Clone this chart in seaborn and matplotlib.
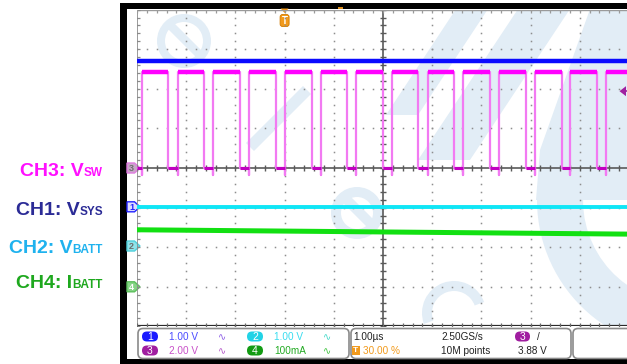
import numpy as np
import pandas as pd
import matplotlib
matplotlib.use("Agg")
import matplotlib.pyplot as plt
import seaborn as sns
from matplotlib.patches import Polygon, FancyBboxPatch, Rectangle, Wedge

sns.set_theme(style="white")
plt.rcParams["font.family"] = ["Liberation Sans", "DejaVu Sans"]

# ---- acquisition: 10 horizontal divisions of 1 µs, 8 vertical divisions ----
n_hdiv = 10
n_vdiv = 8
trigger_pos_div = 3.0            # 30.00 % of the record
trigger_level_div = 1.94         # 3.88 V on CH3 at 2 V/div

# ---- CH3 (switch node): edge times (µs) and levels (divisions) ----
vsw_rise_us = [0.10, 0.83, 1.55, 2.28, 3.01, 3.73, 4.46, 5.18, 5.91, 6.63, 7.36, 8.09, 8.81, 9.54]
vsw_fall_us = [0.64, 1.37, 2.09, 2.82, 3.55, 4.27, 5.00, 5.72, 6.45, 7.17, 7.90, 8.63, 9.35, 10.08]
vsw_high_div = 2.43
vsw_low_div = 0.0
vsw_undershoot_div = -0.17

# ---- DC channels (divisions, at start and end of the record) ----
vsys_div = [2.71, 2.71]
vbatt_div = [-0.98, -0.98]
ibatt_div = [-1.56, -1.67]

# ---- channel ground markers ----
marker_names = ["3", "1", "2", "4"]
marker_div = [0.0, -0.98, -1.97, -3.0]
marker_fill = ["#c9a6c9", "#dcdcff", "#8fe3ea", "#86d486"]
marker_edge = ["#e07ae0", "#2222ff", "#4fd0dc", "#5cc05c"]
marker_text = ["#6e6e6e", "#2222ff", "#6e6e6e", "#ffffff"]

# ---- side labels ----
label_main = ["CH3: V", "CH1: V", "CH2: V", "CH4: I"]
label_sub = ["SW", "SYS", "BATT", "BATT"]
label_color = ["#ff10ff", "#2b2b96", "#1fb2ee", "#1ea81e"]
label_baseline_px = [176, 215, 253, 288]

# ---- readout panel ----
ch_scale = ["1.00 V", "1.00 V", "2.00 V", "100mA"]
ch_num = ["1", "2", "3", "4"]
ch_pill = ["#1a1aff", "#22d3e6", "#a01ea0", "#139b13"]
ch_text = ["#4a4aff", "#38dcef", "#c850c8", "#22aa22"]
ch_icon = ["#8a5ae6", "#3fd8c8", "#b455c8", "#3cc23c"]
timebase = "1.00µs"
trigger_pct = "30.00 %"
sample_rate = "2.50GS/s"
record_len = "10M points"
trig_level = "3.88 V"

W, H = 627, 364
fig = plt.figure(figsize=(W / 100, H / 100), dpi=100)
fig.patch.set_facecolor("white")

# background layer in pixel coordinates
bg = fig.add_axes([0, 0, 1, 1])
bg.set_xlim(0, W)
bg.set_ylim(H, 0)
bg.axis("off")
bg.set_zorder(0)

grid_left, grid_right, grid_top, grid_bot = 137, 629, 9.6, 326.4

# faint logo watermark behind the graticule
wm = "#e2edf6"
clip = Rectangle((grid_left, grid_top), W - grid_left, grid_bot - grid_top, transform=bg.transData)
wm_patches = [
    # letter "e" top left
    Wedge((184, 41), 27, 0, 360, width=8),
    Polygon([(166, 27), (172, 21), (204, 53), (198, 59)]),
    # diagonal stroke
    Polygon([(246, 143), (254, 151), (311, 94), (303, 86)]),
    # letter "e" in the middle
    Wedge((357, 213), 26, 0, 360, width=10),
    Polygon([(340, 200), (347, 193), (374, 220), (367, 227)]),
    # letter "c" at the bottom
    Wedge((454, 313), 32, 160, 340, width=10),
    # diagonal bands on the right
    Polygon([(386, 115), (418, 115), (488, 9), (456, 9)]),
    Polygon([(418, 160), (470, 160), (570, 9), (518, 9)]),
    Polygon([(590, 9), (640, 9), (640, 200), (536, 200), (540, 150)]),
    # large "C" sweep lower right
    Wedge((687, 200), 150, 90, 185, width=46),
]
for p in wm_patches:
    p.set_facecolor(wm)
    p.set_edgecolor("none")
    p.set_zorder(0.5)
    bg.add_patch(p)
    p.set_clip_path(clip)

# black bezel
for (x0, y0, w, h) in [(120, 3, W - 120, 5.5), (120, 3, 6.5, H - 3), (120, 359, W - 120, 5)]:
    bg.add_patch(Rectangle((x0, y0), w, h, facecolor="black", edgecolor="none", zorder=3))

# ---- graticule & traces ----
ax = fig.add_axes([grid_left / W, (H - grid_bot) / H, (grid_right - grid_left) / W, (grid_bot - grid_top) / H])
ax.set_zorder(2)
ax.patch.set_alpha(0)

dot_c = "#8e8e8e"
minor_x = np.arange(0, n_hdiv + 0.01, 0.2)
minor_y = np.arange(-n_vdiv / 2, n_vdiv / 2 + 0.01, 0.2)
for xv in range(1, n_hdiv):
    if xv == n_hdiv // 2:
        continue
    ax.plot(np.full_like(minor_y, xv), minor_y, ls="none", marker="s", ms=1.1, color=dot_c, mew=0)
for yv in range(-n_vdiv // 2 + 1, n_vdiv // 2):
    if yv == 0:
        continue
    ax.plot(minor_x, np.full_like(minor_x, yv), ls="none", marker="s", ms=1.1, color=dot_c, mew=0)

# centre cross-hair with ticks
ax.axvline(n_hdiv / 2, color="#5a5a5a", lw=1.2)
ax.axhline(0, color="#5a5a5a", lw=1.2)
ax.plot(np.full_like(minor_y, n_hdiv / 2), minor_y, ls="none", marker="_", ms=5, mew=1, color="#5a5a5a")
ax.plot(minor_x, np.zeros_like(minor_x), ls="none", marker="|", ms=5, mew=1, color="#5a5a5a")
# border with ticks
ax.axvline(0, color="#8a8a8a", lw=1.2)
ax.axhline(n_vdiv / 2, color="#9a9a9a", lw=1.0)
ax.axhline(-n_vdiv / 2, color="#2a2a2a", lw=1.6)
ax.plot(np.zeros_like(minor_y), minor_y, ls="none", marker="_", ms=4, mew=0.9, color="#8a8a8a")
ax.plot(minor_x, np.full_like(minor_x, n_vdiv / 2), ls="none", marker="|", ms=4, mew=0.9, color="#9a9a9a")
ax.plot(minor_x, np.full_like(minor_x, -n_vdiv / 2), ls="none", marker="|", ms=4, mew=0.9, color="#6a6a6a")

# CH3 switch-node waveform as a step trace
t_pts, v_pts = [0.0], [vsw_low_div]
for r, f in zip(vsw_rise_us, vsw_fall_us):
    t_pts += [r, r, r, f, f]
    v_pts += [vsw_low_div, vsw_undershoot_div, vsw_high_div, vsw_high_div, vsw_low_div]
vsw = pd.DataFrame({"t": t_pts, "v": v_pts})
sns.lineplot(data=vsw, x="t", y="v", sort=False, estimator=None, color="#f27af2", lw=1.6, ax=ax)
n_pulses = len(vsw_rise_us)
ax.hlines([vsw_high_div] * n_pulses, vsw_rise_us, vsw_fall_us, color="#ff00ff", lw=3.2, zorder=4)
ax.hlines([vsw_low_div] * n_pulses, [0.0] + vsw_fall_us[:-1], vsw_rise_us, color="#c000c0", lw=2.2, zorder=4)

# DC traces
dc = pd.DataFrame({"t": [0, n_hdiv] * 3,
                   "v": vsys_div + vbatt_div + ibatt_div,
                   "ch": ["CH1"] * 2 + ["CH2"] * 2 + ["CH4"] * 2})
for ch, col, lw in [("CH1", "#0a0aff", 3.2), ("CH2", "#10e6f6", 2.8), ("CH4", "#12e012", 3.6)]:
    sns.lineplot(data=dc[dc.ch == ch], x="t", y="v", color=col, lw=lw, ax=ax, estimator=None)
ax.set_xlim(0, n_hdiv)
ax.set_ylim(-n_vdiv / 2, n_vdiv / 2)
ax.axis("off")

# ---- markers in pixel space ----
def y_px(div):
    return (grid_top + grid_bot) / 2 - div * (grid_bot - grid_top) / n_vdiv

def x_px(div):
    return grid_left + div * (grid_right - grid_left) / n_hdiv

for name, d, fc, ec, tc in zip(marker_names, marker_div, marker_fill, marker_edge, marker_text):
    yc = y_px(d)
    bg.add_patch(Polygon([(127, yc - 5), (134.5, yc - 5), (140, yc), (134.5, yc + 5), (127, yc + 5)],
                         closed=True, facecolor=fc, edgecolor=ec, lw=1.0, zorder=4))
    bg.text(131.5, yc + 0.3, name, ha="center", va="center", fontsize=6.5, fontweight="bold", color=tc, zorder=5)

# trigger position marker
tx = x_px(trigger_pos_div)
bg.add_patch(Polygon([(tx - 4, 8.5), (tx + 4, 8.5), (tx, 13)], facecolor="#f29a1c", edgecolor="none", zorder=4))
bg.add_patch(FancyBboxPatch((tx - 4.5, 14.5), 9, 12, boxstyle="round,pad=0,rounding_size=2.5",
                            facecolor="#f29a1c", edgecolor="#d07a00", lw=0.6, zorder=4))
bg.text(tx, 20.8, "T", ha="center", va="center", fontsize=7, fontweight="bold", color="white", zorder=5)
bg.add_patch(Rectangle((338, 6.5), 5, 2.5, facecolor="#e0901c", edgecolor="none", zorder=4))

# trigger level arrow on the right edge
ty = y_px(trigger_level_div)
bg.add_patch(Polygon([(619.5, ty), (626, ty - 5), (626, ty + 5)], facecolor="#a020a0", edgecolor="none", zorder=4))
bg.plot([622, 627], [ty, ty], color="#a020a0", lw=1.2, zorder=4)

# ---- readout panel ----
panel_font = ["Liberation Sans Narrow", "Liberation Sans", "DejaVu Sans"]
pfs = 7.2
for (x0, w) in [(138, 211), (351, 220), (573, 70)]:
    bg.add_patch(FancyBboxPatch((x0, 328.5), w, 30, boxstyle="round,pad=0,rounding_size=5",
                                facecolor="white", edgecolor="#8a8a8a", lw=1.2, zorder=4))

row_y = [336.5, 350.5]
cells = [(150, row_y[0]), (255, row_y[0]), (150, row_y[1]), (255, row_y[1])]
for i, (cx, cy) in enumerate(cells):
    bg.add_patch(FancyBboxPatch((cx - 8, cy - 5), 16, 10, boxstyle="round,pad=0,rounding_size=5",
                                facecolor=ch_pill[i], edgecolor="none", zorder=5))
    bg.text(cx, cy + 0.3, ch_num[i], ha="center", va="center", fontsize=7.5, color="white", zorder=6,
            family=panel_font)
    bg.text(cx + 19, cy + 0.3, ch_scale[i], ha="left", va="center", fontsize=pfs, color=ch_text[i], zorder=6,
            family=panel_font)
    bg.text(cx + 72, cy + 0.3, "∿", ha="center", va="center", fontsize=7, color=ch_icon[i], zorder=6,
            family=["DejaVu Sans"])

bg.text(353, row_y[0] + 0.3, timebase, ha="left", va="center", fontsize=pfs, color="#222222", zorder=6, family=panel_font)
bg.add_patch(Rectangle((352, row_y[1] - 4.5), 7.5, 9, facecolor="#f29a1c", edgecolor="none", zorder=5))
bg.text(355.8, row_y[1] + 0.3, "T", ha="center", va="center", fontsize=6, fontweight="bold", color="white", zorder=6)
bg.text(363, row_y[1] + 0.3, trigger_pct, ha="left", va="center", fontsize=pfs, color="#f29a1c", zorder=6, family=panel_font)
bg.text(441, row_y[0] + 0.3, sample_rate, ha="left", va="center", fontsize=pfs, color="#222222", zorder=6, family=panel_font)
bg.text(441, row_y[1] + 0.3, record_len, ha="left", va="center", fontsize=pfs, color="#222222", zorder=6, family=panel_font)
bg.add_patch(FancyBboxPatch((515, row_y[0] - 5), 15, 10, boxstyle="round,pad=0,rounding_size=5",
                            facecolor="#a01ea0", edgecolor="none", zorder=5))
bg.text(522.5, row_y[0] + 0.3, "3", ha="center", va="center", fontsize=7.5, color="white", zorder=6, family=panel_font)
bg.text(538, row_y[0] + 0.3, "/", ha="center", va="center", fontsize=pfs, color="#222222", zorder=6, family=panel_font)
bg.text(518, row_y[1] + 0.3, trig_level, ha="left", va="center", fontsize=pfs, color="#222222", zorder=6, family=panel_font)

# ---- side labels: main text plus smaller subscript on a common baseline ----
fig.canvas.draw()
renderer = fig.canvas.get_renderer()
inv = bg.transData.inverted()
for main, sub, col, base in zip(label_main, label_sub, label_color, label_baseline_px):
    s = bg.text(103, base, sub, ha="right", va="baseline", fontsize=8.5, fontweight="bold", color=col)
    bb = s.get_window_extent(renderer=renderer)
    x0 = inv.transform((bb.x0, bb.y0))[0]
    bg.text(x0, base, main, ha="right", va="baseline", fontsize=14, fontweight="bold", color=col)

fig.savefig("out.png", dpi=100, facecolor="white")
